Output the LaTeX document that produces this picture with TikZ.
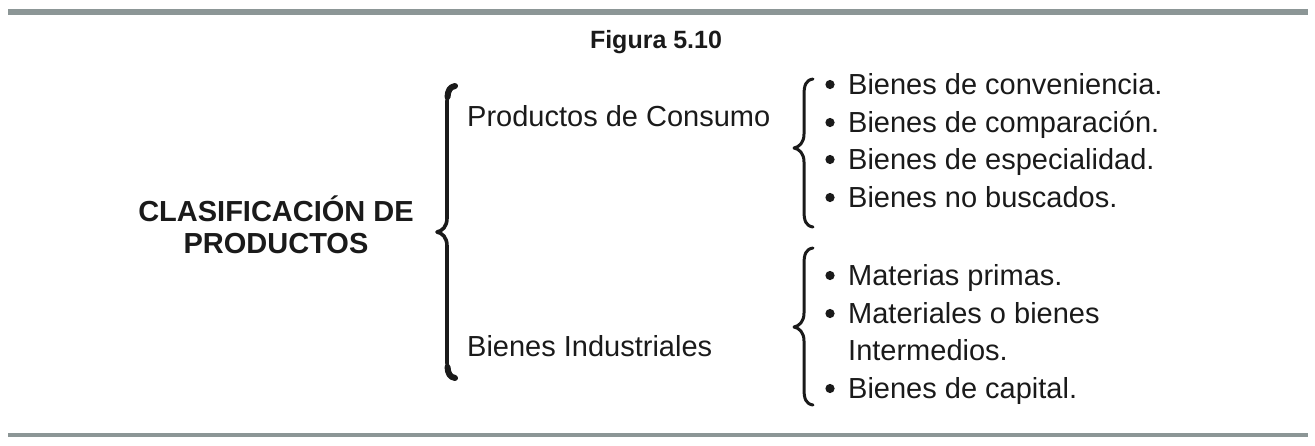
\documentclass[tikz,border=0pt]{standalone}
\usepackage{fontspec}
\setmainfont{Liberation Sans}
\definecolor{barcol}{RGB}{140,150,150}
\definecolor{ink}{RGB}{26,26,26}
\tikzset{
  txt/.style={inner sep=0pt, anchor=base west, text=ink, font=\fontsize{29}{34}\selectfont},
  ctxt/.style={inner sep=0pt, anchor=base, text=ink, font=\fontsize{29}{34}\selectfont\bfseries},
  title/.style={inner sep=0pt, anchor=base, text=ink, font=\fontsize{25}{30}\selectfont\bfseries},
  braceline/.style={draw=ink, line width=#1, line cap=round, line join=round},
  bar/.style={fill=barcol, draw=none},
  dot/.style={fill=ink, draw=none}
}
\newcommand\drawbrace[5]{%
  \draw[braceline=#5] ({#1+9},#2) .. controls ({#1+2},{#2+1}) and (#1,{#2+6}) .. (#1,{#2+16})
    -- (#1,{#3-14}) .. controls (#1,{#3-5}) and ({#1-5},{#3-1}) .. ({#1-10},#3)
    .. controls ({#1-5},{#3+1}) and (#1,{#3+5}) .. (#1,{#3+14})
    -- (#1,{#4-16}) .. controls (#1,{#4-6}) and ({#1+2},{#4-1}) .. ({#1+9},#4);
}
\begin{document}
\begin{tikzpicture}[x=1pt,y=-1pt]
\useasboundingbox (0,0) rectangle (1315,445);
% bars
\fill[bar] (8,9) rectangle (1308,15);
\fill[bar] (8,433) rectangle (1308,437);
% title
\node[title] (fig) at (656,48) {Figura 5.10};
% root label
\node[ctxt] (root1) at (276,221) {CLASIFICACIÓN DE};
\node[ctxt] (root2) at (276,253) {PRODUCTOS};
% big brace
\drawbrace{447}{86}{232}{378}{3.6pt}
\draw[braceline=6pt] (455,86) .. controls (450,87) and (448,90) .. (447.5,97);
\draw[braceline=6pt] (455,378) .. controls (450,377) and (448,374) .. (447.5,367);
% categories
\node[txt] (cons) at (467,126) {Productos de Consumo};
\node[txt] (ind) at (467,356) {Bienes Industriales};
% upper list
\drawbrace{804}{79}{148}{227}{3pt}
\foreach \y/\t [count=\i] in {94/Bienes de conveniencia., 132/Bienes de comparación., 169/Bienes de especialidad., 207/Bienes no buscados.}{
  \fill[dot] (830,\y-9.5) circle (4.6);
  \node[txt] (a\i) at (848,\y) {\t};
}
% lower list
\drawbrace{804}{248}{327}{405}{3pt}
\fill[dot] (830,285-9.5) circle (4.6);
\node[txt] (b1) at (848,285) {Materias primas.};
\fill[dot] (830,323-9.5) circle (4.6);
\node[txt] (b2) at (848,323) {Materiales o bienes};
\node[txt] (b3) at (848,360) {Intermedios.};
\fill[dot] (830,398-9.5) circle (4.6);
\node[txt] (b4) at (848,398) {Bienes de capital.};
\end{tikzpicture}
\end{document}
